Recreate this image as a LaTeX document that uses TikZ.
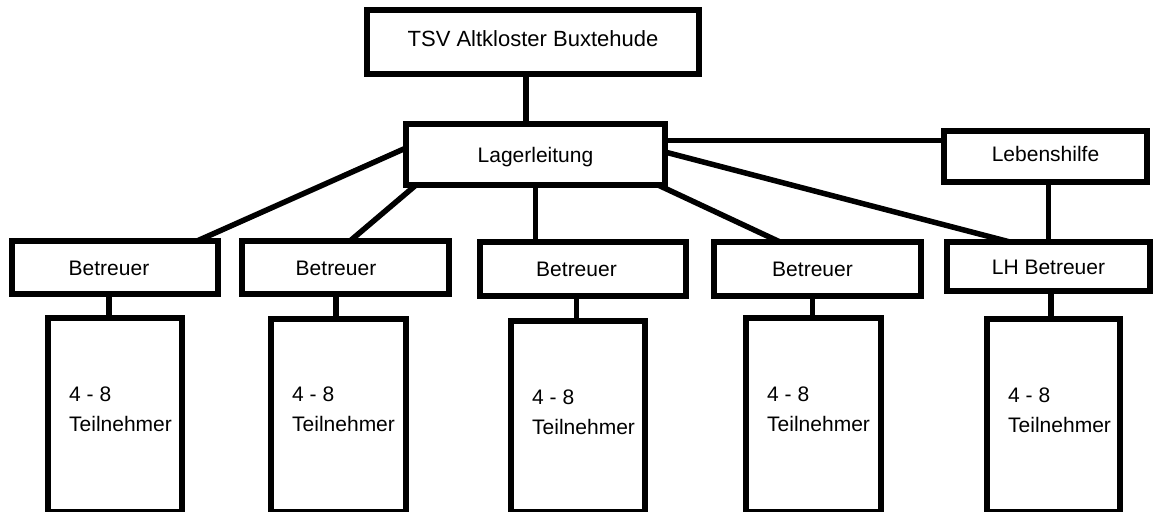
\documentclass[tikz,border=0pt]{standalone}
\usepackage{fontspec}
\setmainfont{Liberation Sans}
\begin{document}
\begin{tikzpicture}[x=1pt,y=-1pt,
  box/.style={draw, line width=6pt, rectangle, inner sep=0pt, outer sep=0pt,
    font=\fontsize{21}{25}\selectfont, text height=15pt, text depth=0pt},
  lbl/.style={inner sep=0pt, font=\fontsize{21}{25}\selectfont, text height=15pt, text depth=0pt},
  tlbl/.style={inner sep=0pt, anchor=north west, align=left, font=\fontsize{21}{30}\selectfont},
  conn/.style={line width=5.5pt}
]
\useasboundingbox (0,0) rectangle (1153,511);
\fill[white] (0,0) rectangle (1153,511);

% x positions of vertical connectors
\coordinate (k0) at (526,0);
\coordinate (k1) at (109,0);
\coordinate (k2) at (336,0);
\coordinate (k3) at (576.5,0);
\coordinate (k4) at (812.5,0);
\coordinate (k5) at (1051,0);

% top levels
\node[box, minimum width=332pt, minimum height=64pt, font=\fontsize{22}{26}\selectfont, text depth=5pt] (top) at (533,42) {TSV Altkloster Buxtehude};
\node[box, minimum width=259pt, minimum height=61pt] (lag) at (535.5,154.5) {Lagerleitung};
\node[box, minimum width=203pt, minimum height=51pt, text depth=6pt] (leb) at (1045.5,156.5) {Lebenshilfe};

% Betreuer row
\node[box, minimum width=206pt, minimum height=53pt] (b1) at (115,267.5) {};
\node[box, minimum width=207pt, minimum height=53pt] (b2) at (345.5,267.5) {};
\node[box, minimum width=206pt, minimum height=54pt] (b3) at (583,269) {};
\node[box, minimum width=207pt, minimum height=54pt] (b4) at (817.5,269) {};
\node[box, minimum width=203pt, minimum height=49pt] (lhb) at (1048.5,266.5) {LH Betreuer};
\node[lbl] (b1t) at (b1.center -| k1) {Betreuer};
\node[lbl] (b2t) at (b2.center -| k2) {Betreuer};
\node[lbl] (b3t) at (b3.center -| k3) {Betreuer};
\node[lbl] (b4t) at (b4.center -| k4) {Betreuer};

% Teilnehmer boxes
\node[box, minimum width=134pt, minimum height=194pt] (t1) at (115,415) {};
\node[box, minimum width=135pt, minimum height=193pt] (t2) at (338.5,415.5) {};
\node[box, minimum width=134pt, minimum height=191pt] (t3) at (578,416.5) {};
\node[box, minimum width=135pt, minimum height=194pt] (t4) at (813.5,415) {};
\node[box, minimum width=133pt, minimum height=193pt] (t5) at (1053.5,415.5) {};
\node[tlbl] (t1t) at ([xshift=21pt,yshift=-69pt]t1.north west) {4 - 8\\Teilnehmer};
\node[tlbl] (t2t) at ([xshift=21pt,yshift=-68pt]t2.north west) {4 - 8\\Teilnehmer};
\node[tlbl] (t3t) at ([xshift=21pt,yshift=-69pt]t3.north west) {4 - 8\\Teilnehmer};
\node[tlbl] (t4t) at ([xshift=21pt,yshift=-69pt]t4.north west) {4 - 8\\Teilnehmer};
\node[tlbl] (t5t) at ([xshift=21pt,yshift=-69pt]t5.north west) {4 - 8\\Teilnehmer};

% connectors
\draw[conn] (top.south -| k0) -- (lag.north -| k0);
\draw[conn] ([yshift=6.5pt]lag.west) -- ([xshift=82pt]b1.north);
\draw[conn] ([xshift=10pt]lag.south west) -- ([xshift=4.5pt]b2.north);
\draw[conn] (lag.south) -- (lag.south |- b3.north);
\draw[conn] ([xshift=-7pt]lag.south east) -- ([xshift=-37.5pt]b4.north);
\draw[conn] ([yshift=2.5pt]lag.east) -- ([xshift=-38.5pt]lhb.north);
\draw[conn] ([yshift=14pt]lag.east) -- ([yshift=16pt]leb.west);
\draw[conn] (leb.south -| lhb.north) -- (lhb.north);
\draw[conn] (b1.south -| k1) -- (t1.north -| k1);
\draw[conn] (b2.south -| k2) -- (t2.north -| k2);
\draw[conn] (b3.south -| k3) -- (t3.north -| k3);
\draw[conn] (b4.south -| k4) -- (t4.north -| k4);
\draw[conn] (lhb.south -| k5) -- (t5.north -| k5);
\end{tikzpicture}
\end{document}
